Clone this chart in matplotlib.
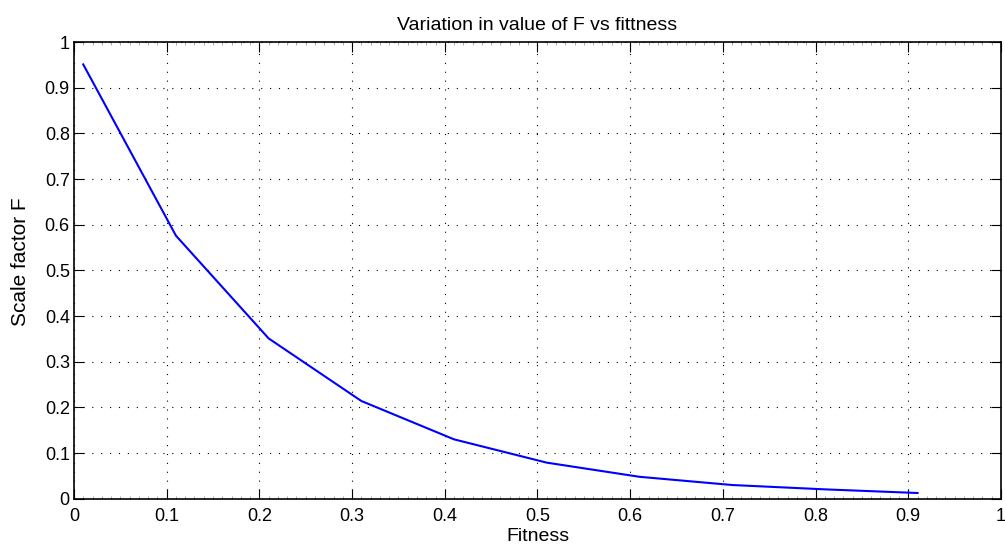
import matplotlib
matplotlib.use("Agg")
import matplotlib.pyplot as plt
from matplotlib.ticker import MultipleLocator

fitness = [0.01, 0.11, 0.21, 0.31, 0.41, 0.51, 0.61, 0.71, 0.81, 0.91]
scale_f = [0.951, 0.576, 0.351, 0.214, 0.130, 0.079, 0.048, 0.030, 0.0205, 0.0125]
ticks = [0, 0.1, 0.2, 0.3, 0.4, 0.5, 0.6, 0.7, 0.8, 0.9, 1]
tick_labels = ["0", "0.1", "0.2", "0.3", "0.4", "0.5", "0.6", "0.7", "0.8", "0.9", "1"]

plt.rcParams["font.family"] = ["Liberation Sans", "DejaVu Sans"]

fig = plt.figure(figsize=(10.05, 5.46), dpi=100)
ax = fig.add_axes([0.0736, 0.0866, 0.9224, 0.8364])

ax.plot(fitness, scale_f, color="#0000ff", linewidth=1.5)

ax.set_xlim(0, 1)
ax.set_ylim(0, 1)
ax.set_xticks(ticks)
ax.set_xticklabels(tick_labels)
ax.set_yticks(ticks)
ax.set_yticklabels(tick_labels)
ax.xaxis.set_minor_locator(MultipleLocator(0.01))
ax.tick_params(which="major", direction="in", length=7.2, width=0.8, top=True, right=True,
               labelsize=13, colors="black")
ax.tick_params(axis="x", which="major", pad=7)
ax.tick_params(axis="y", which="major", pad=3)
ax.tick_params(axis="x", which="minor", direction="in", length=2, width=0.5,
               color="#888888", top=True, bottom=True)
ax.grid(True, which="major", linestyle=(0, (1, 7)), color="black", linewidth=0.8)
for s in ax.spines.values():
    s.set_linewidth(1.2)

ax.set_title("Variation in value of F vs fittness", fontsize=14, pad=9)
ax.set_xlabel("Fitness", fontsize=14)
ax.set_ylabel("Scale factor F", fontsize=15)
ax.xaxis.set_label_coords(0.5, -0.064)
ax.yaxis.set_label_coords(-0.047, 0.52)

fig.savefig("out.png", dpi=100)
plt.close(fig)
